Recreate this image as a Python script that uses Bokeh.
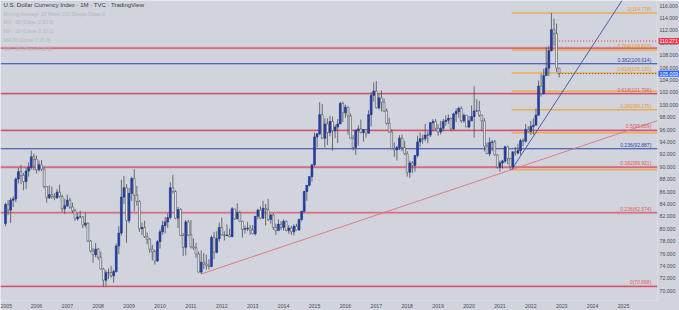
import numpy as np
from bokeh.plotting import figure
from bokeh.models import Range1d, FixedTicker, NumeralTickFormatter, Label
from bokeh.core.properties import value
from bokeh.embed import file_html
from bokeh.resources import INLINE

# ---------------- data (monthly U.S. Dollar Index, Jan 2005 - Dec 2022) -------------
first_open = 80.85
close_2005 = [83.9, 83.0, 84.6, 84.8, 88.0, 89.2, 88.6, 87.6, 89.3, 89.9, 91.6, 91.2]
high_2005 = [84.2, 84.6, 85.0, 85.2, 88.3, 89.8, 90.3, 89.0, 89.8, 90.7, 92.6, 92.1]
low_2005 = [80.4, 82.2, 80.9, 83.5, 84.3, 87.3, 87.2, 86.2, 86.4, 88.4, 89.5, 89.4]
close_2006 = [89.5, 90.3, 89.6, 86.8, 85.0, 85.5, 85.2, 85.0, 85.9, 85.2, 83.2, 83.7]
high_2006 = [91.8, 91.0, 91.1, 89.9, 86.9, 87.0, 86.8, 85.7, 86.4, 87.1, 85.5, 84.8]
low_2006 = [88.9, 89.2, 89.3, 86.5, 84.2, 84.8, 84.8, 84.6, 84.8, 85.0, 82.7, 82.4]
close_2007 = [84.6, 83.5, 82.9, 81.6, 81.9, 81.9, 80.6, 80.9, 78.0, 76.4, 75.8, 76.7]
high_2007 = [85.5, 85.0, 84.2, 83.2, 82.5, 82.9, 82.0, 82.6, 81.0, 78.2, 76.9, 77.7]
low_2007 = [83.5, 83.2, 82.5, 81.3, 81.3, 81.8, 80.1, 80.2, 77.9, 76.2, 74.5, 75.4]
close_2008 = [75.4, 73.5, 71.7, 72.9, 72.9, 72.4, 73.1, 77.2, 79.3, 85.1, 86.6, 81.3]
high_2008 = [76.9, 76.3, 73.7, 73.3, 73.6, 74.0, 73.4, 77.6, 80.4, 87.9, 88.5, 87.2]
low_2008 = [75.0, 73.4, 70.7, 70.8, 71.9, 72.1, 71.3, 72.9, 75.9, 78.9, 84.0, 77.7]
close_2009 = [85.7, 88.1, 85.4, 84.4, 80.0, 80.2, 78.7, 78.3, 76.7, 76.3, 74.8, 77.9]
high_2009 = [86.6, 88.4, 89.6, 86.9, 84.6, 81.0, 81.3, 79.4, 78.5, 77.4, 76.6, 78.2]
low_2009 = [80.9, 84.5, 82.8, 83.7, 79.5, 79.0, 78.5, 77.5, 76.1, 74.9, 74.2, 74.6]
close_2010 = [79.5, 80.5, 81.1, 81.8, 86.6, 86.0, 81.7, 83.1, 78.9, 77.0, 81.1, 79.0]
high_2010 = [79.9, 81.3, 81.9, 82.5, 87.5, 88.7, 86.2, 83.5, 83.3, 79.3, 81.4, 81.4]
low_2010 = [76.8, 79.0, 79.2, 80.1, 81.5, 85.7, 81.5, 80.1, 78.8, 75.6, 75.7, 78.8]
close_2011 = [77.1, 76.9, 75.9, 73.0, 74.6, 74.3, 74.1, 73.9, 78.6, 76.2, 78.4, 80.2]
high_2011 = [81.4, 78.4, 77.7, 76.3, 76.5, 76.1, 75.8, 75.1, 78.9, 79.5, 79.6, 81.0]
low_2011 = [76.8, 76.6, 75.3, 72.9, 72.7, 73.5, 73.4, 73.4, 73.8, 75.1, 76.0, 77.9]
close_2012 = [79.0, 78.9, 79.0, 78.7, 83.2, 81.6, 82.6, 81.2, 79.9, 80.0, 80.1, 79.8]
high_2012 = [81.8, 79.6, 80.7, 80.0, 83.5, 83.0, 84.1, 82.9, 81.3, 80.5, 81.1, 80.6]
low_2012 = [78.9, 78.1, 78.8, 78.6, 78.7, 81.4, 81.5, 81.1, 78.6, 79.2, 79.6, 79.0]
close_2013 = [79.2, 82.0, 83.0, 81.7, 83.3, 83.1, 81.5, 82.2, 80.2, 79.7, 80.7, 80.2]
high_2013 = [80.6, 82.0, 83.2, 83.6, 84.5, 84.0, 84.8, 82.4, 82.5, 80.8, 81.5, 81.2]
low_2013 = [79.1, 78.9, 81.5, 81.5, 81.6, 80.5, 81.2, 80.8, 79.8, 79.0, 79.9, 79.8]
close_2014 = [81.2, 79.7, 80.1, 79.5, 80.4, 79.8, 81.5, 82.8, 86.0, 87.0, 88.4, 90.3]
high_2014 = [81.5, 81.3, 80.6, 80.4, 80.7, 80.8, 81.6, 82.9, 86.1, 87.0, 88.5, 90.3]
low_2014 = [79.7, 79.6, 79.2, 79.0, 78.9, 79.7, 79.7, 81.2, 82.6, 84.5, 86.8, 87.6]
close_2015 = [94.8, 95.3, 98.4, 94.6, 96.9, 95.5, 97.3, 95.8, 96.4, 96.9, 100.2, 98.7]
high_2015 = [95.5, 95.4, 100.4, 100.1, 97.8, 97.8, 98.2, 98.1, 96.8, 97.7, 100.5, 100.5]
low_2015 = [90.1, 93.1, 95.1, 94.5, 93.1, 93.5, 94.9, 92.6, 94.6, 93.8, 96.9, 97.2]
close_2016 = [99.6, 98.2, 94.6, 93.1, 95.9, 96.1, 95.5, 96.0, 95.4, 98.4, 101.5, 102.2]
high_2016 = [100.0, 99.7, 98.6, 95.1, 95.9, 96.7, 97.6, 96.0, 96.1, 99.1, 102.0, 103.6]
low_2016 = [97.9, 95.2, 94.6, 92.6, 91.9, 93.4, 95.4, 94.0, 94.7, 95.4, 96.5, 100.5]
close_2017 = [99.5, 101.1, 100.4, 99.0, 97.0, 95.6, 92.9, 92.7, 93.1, 94.6, 93.1, 92.1]
high_2017 = [103.8, 101.8, 102.3, 101.0, 99.4, 97.9, 96.0, 93.9, 93.4, 95.1, 95.2, 94.2]
low_2017 = [99.4, 99.2, 98.9, 98.8, 96.8, 95.5, 92.8, 91.6, 91.0, 92.7, 92.5, 91.9]
close_2018 = [89.1, 90.6, 90.2, 91.8, 94.0, 94.5, 94.5, 95.1, 95.1, 97.1, 97.3, 96.2]
high_2018 = [92.5, 91.0, 90.9, 91.9, 95.0, 95.5, 95.2, 96.9, 95.7, 97.2, 97.7, 97.7]
low_2018 = [88.4, 88.2, 89.0, 89.2, 91.5, 93.2, 93.7, 94.1, 93.8, 94.8, 95.7, 95.9]
close_2019 = [95.6, 96.2, 97.3, 97.5, 97.8, 96.1, 98.5, 98.9, 99.4, 97.4, 98.3, 96.4]
high_2019 = [96.9, 97.4, 97.7, 98.3, 98.4, 97.9, 98.7, 99.4, 99.7, 99.7, 98.6, 98.3]
low_2019 = [95.0, 95.2, 95.7, 96.6, 96.9, 95.8, 95.9, 97.2, 97.9, 97.1, 97.1, 96.4]
close_2020 = [97.4, 98.1, 99.0, 99.0, 98.3, 97.4, 93.3, 92.1, 93.9, 94.0, 91.9, 89.9]
high_2020 = [98.2, 99.9, 103.0, 100.9, 100.6, 98.4, 97.8, 93.9, 94.7, 94.3, 94.3, 92.0]
low_2020 = [96.2, 97.4, 94.7, 98.9, 98.0, 95.7, 92.5, 92.1, 91.7, 92.5, 91.8, 89.7]
close_2021 = [90.6, 90.9, 93.2, 91.3, 90.0, 92.4, 92.2, 92.6, 94.2, 94.1, 96.0, 95.7]
high_2021 = [91.0, 91.1, 93.4, 93.4, 91.4, 92.4, 93.2, 93.7, 94.5, 94.6, 96.9, 96.5]
low_2021 = [89.2, 89.7, 90.6, 90.4, 89.5, 89.7, 91.8, 92.0, 91.9, 93.3, 93.9, 95.5]
close_2022 = [96.5, 96.7, 98.3, 103.0, 101.8, 104.7, 105.9, 108.7, 112.1, 111.5, 105.9, 105.0]
high_2022 = [97.4, 97.8, 99.4, 103.9, 105.0, 105.8, 109.3, 109.5, 114.8, 113.9, 113.1, 105.8]
low_2022 = [95.1, 95.2, 96.7, 98.3, 101.3, 101.6, 104.7, 104.6, 108.6, 109.5, 105.3, 104.4]

# Fibonacci levels
fib_long_ratios = ["0.764", "0.618", "0.5", "0.382", "0.236", "0"]
fib_long_values = [109.143, 101.796, 95.859, 89.921, 82.574, 70.698]
fib_blue_ratios = ["0.382", "0.236"]
fib_blue_values = [106.614, 92.887]
fib_short_ratios = ["1", "0.764", "0.618", "0.5", "0.382", "0.236", "0"]
fib_short_values = [114.778, 108.820, 105.131, 102.154, 99.175, 95.488, 89.530]
fib_short_start = 2021.38

# Trend lines (anchor points)
trend_red_x = [2011.33, 2021.38]
trend_red_y = [72.69, 89.53]
trend_blue_x = [2021.38, 2023.0]
trend_blue_y = [89.53, 101.9]

last_price = 105.009
marker_price = 110.271

title_text = "U.S. Dollar Currency Index · 1M · TVC · TradingView"
legend_rows = ["Moving Average 20 Week 100 Simple Close 0",
               "MA · 50 (Close 0 50 0)",
               "MA · 20 (Close 0 20 0)",
               "MA 20 (Close 0 20 0)",
               "MA · 20 (Price 0 20 0)"]
x_tick_years = list(range(2005, 2026))
y_ticks = list(range(70, 117, 2))

# ---------------- assemble -------------
closes = np.array(close_2005 + close_2006 + close_2007 + close_2008 + close_2009 + close_2010 +
                  close_2011 + close_2012 + close_2013 + close_2014 + close_2015 + close_2016 +
                  close_2017 + close_2018 + close_2019 + close_2020 + close_2021 + close_2022)
highs = np.array(high_2005 + high_2006 + high_2007 + high_2008 + high_2009 + high_2010 +
                 high_2011 + high_2012 + high_2013 + high_2014 + high_2015 + high_2016 +
                 high_2017 + high_2018 + high_2019 + high_2020 + high_2021 + high_2022)
lows = np.array(low_2005 + low_2006 + low_2007 + low_2008 + low_2009 + low_2010 +
                low_2011 + low_2012 + low_2013 + low_2014 + low_2015 + low_2016 +
                low_2017 + low_2018 + low_2019 + low_2020 + low_2021 + low_2022)
opens = np.concatenate([[first_open], closes[:-1]])
n = len(closes)
t = 2005 + np.arange(n) / 12.0

FW, FH = 657, 300
X0, X1 = 2004.838, 2026.10
Y0, Y1 = 68.42, 116.81
BG = "#d1d4dc"

p = figure(frame_width=FW, frame_height=FH, output_backend="svg", toolbar_location=None,
           x_range=Range1d(X0, X1), y_range=Range1d(Y0, Y1),
           y_axis_location="right",
           min_border_left=0, min_border_top=0, min_border_right=20, min_border_bottom=10,
           background_fill_color=BG, border_fill_color=BG, outline_line_color=None)
p.grid.visible = False

for ax in (p.xaxis[0], p.yaxis[0]):
    ax.axis_line_color = None
    ax.major_tick_line_color = None
    ax.minor_tick_line_color = None
    ax.major_tick_out = 0
    ax.major_tick_in = 0
    ax.minor_tick_out = 0
    ax.major_label_text_font_size = "5.2px"
    ax.major_label_text_color = "#4a4d57"
    ax.major_label_text_font = "Liberation Sans"
    ax.major_label_standoff = 3
p.yaxis[0].ticker = FixedTicker(ticks=y_ticks)
p.yaxis[0].formatter = NumeralTickFormatter(format="0.000")
p.yaxis[0].major_label_standoff = 2
p.xaxis[0].ticker = FixedTicker(ticks=x_tick_years)
p.xaxis[0].formatter = NumeralTickFormatter(format="0")

# full-width long term fib lines
red_c = "#d8506a"
blue_c = "#2b45a8"
orange_c = "#f0a63a"
for v in fib_long_values:
    p.segment(x0=[X0], x1=[X1], y0=[v], y1=[v], line_color=red_c, line_width=3, line_alpha=0.2)
    p.segment(x0=[X0], x1=[X1], y0=[v], y1=[v], line_color=red_c, line_width=1.2)
for v in fib_blue_values:
    p.segment(x0=[X0], x1=[X1], y0=[v], y1=[v], line_color=blue_c, line_width=1.1)
for v in fib_short_values:
    p.segment(x0=[fib_short_start], x1=[X1], y0=[v], y1=[v], line_color=orange_c, line_width=1.5, line_alpha=0.85)

# trend lines extended
def extend(xs, ys, x_end):
    slope = (ys[1] - ys[0]) / (xs[1] - xs[0])
    return [xs[0], x_end], [ys[0], ys[0] + slope * (x_end - xs[0])]

tx, ty = extend(trend_red_x, trend_red_y, X1)
p.line(tx, ty, line_color="#e07080", line_width=0.9)
slope_b = (trend_blue_y[1] - trend_blue_y[0]) / (trend_blue_x[1] - trend_blue_x[0])
xb_end = trend_blue_x[0] + (Y1 - trend_blue_y[0]) / slope_b
p.line([trend_blue_x[0], xb_end], [trend_blue_y[0], Y1], line_color="#3b4fa8", line_width=0.9)

# candles
up = closes >= opens
w = 0.06
p.segment(x0=t, x1=t, y0=lows, y1=highs, line_color="#4c4f58", line_width=0.8)
p.vbar(x=t[up], width=w, top=closes[up], bottom=opens[up],
       fill_color="#2340aa", line_color="#1a2f88", line_width=0.6)
p.vbar(x=t[~up], width=w, top=opens[~up], bottom=closes[~up],
       fill_color="#eef0f4", line_color="#4c4f58", line_width=0.6)

# price lines
p.segment(x0=[t[-1]], x1=[X1], y0=[marker_price], y1=[marker_price],
          line_color="#e0304a", line_width=1, line_dash="1 2")
p.segment(x0=[t[-1]], x1=[X1], y0=[last_price], y1=[last_price],
          line_color="#5a5a40", line_width=1, line_dash="1 2")

# fib labels
lab_x = X1 - 0.2
fs = "5px"
p.text(x=[lab_x] * 2, y=fib_blue_values,
       text=[f"{r}({v:.3f})" for r, v in zip(fib_blue_ratios, fib_blue_values)],
       text_align="right", text_baseline="bottom", y_offset=-1,
       text_font_size=fs, text_color=blue_c, text_font=value("Liberation Sans"))
short_show = [0, 1, 2, 4]
p.text(x=[lab_x] * len(short_show), y=[fib_short_values[i] for i in short_show],
       text=[f"{fib_short_ratios[i]}({fib_short_values[i]:.3f})" for i in short_show],
       text_align="right", text_baseline="bottom", y_offset=-1,
       text_font_size=fs, text_color="#e89a2a", text_font=value("Liberation Sans"))
long_show = [1, 2, 3, 4, 5]
p.text(x=[lab_x] * len(long_show), y=[fib_long_values[i] for i in long_show],
       text=[f"{fib_long_ratios[i]}({fib_long_values[i]:.3f})" for i in long_show],
       text_align="right", text_baseline="bottom", y_offset=-1,
       text_font_size=fs, text_color="#e05a5a", text_font=value("Liberation Sans"))

# price boxes on the price axis
for val, col in ((marker_price, "#e8334e"), (last_price, "#2962ff")):
    p.add_layout(Label(x=FW + 1, x_units="canvas", y=val, text=f"{val:.3f}",
                       text_font_size="5.2px", text_color="white", text_baseline="middle",
                       text_font="Liberation Sans",
                       background_fill_color=col, border_line_color=None,
                       padding=1), "right")

# legend text
px_per_year = FW / (X1 - X0)

def ypix(py):
    return Y1 - py * (Y1 - Y0) / FH

def xpix(px):
    return X0 + px / px_per_year

p.add_layout(Label(x=xpix(3), y=ypix(4), text=title_text, text_font_size="6px",
                   text_color="#363a45", text_baseline="middle", text_font="Liberation Sans"))
for i, row in enumerate(legend_rows):
    p.add_layout(Label(x=xpix(3), y=ypix(13 + 8.8 * i), text=row, text_font_size="5px",
                       text_color="#b4b8c2", text_baseline="middle", text_font="Liberation Sans"))

open("out.html", "w").write(file_html(p, INLINE))
